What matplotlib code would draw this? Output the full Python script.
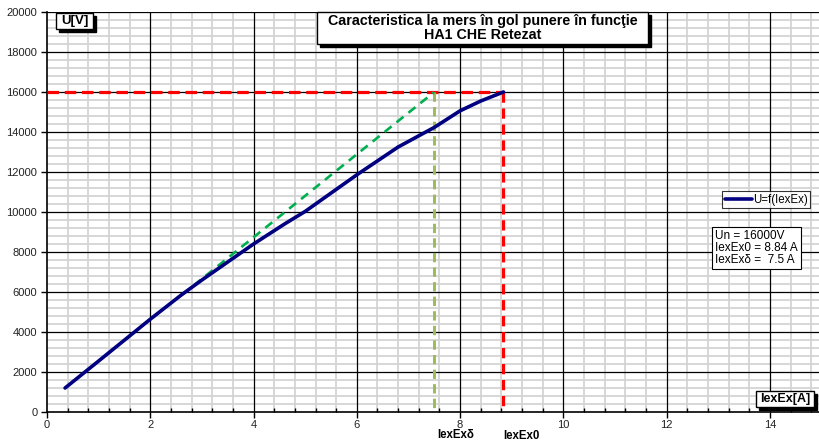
import numpy as np
import matplotlib.pyplot as plt
from matplotlib.ticker import MultipleLocator
from matplotlib.patches import Rectangle

plt.rcParams['font.family'] = ['Liberation Sans', 'DejaVu Sans']

# Measured no-load characteristic U = f(IexEx)
iex = [0.35, 1.0, 2.0, 2.6, 3.0, 4.0, 4.6, 5.0, 6.0, 6.8, 7.5, 8.0, 8.4, 8.84]
u = [1200, 2550, 4640, 5850, 6600, 8400, 9400, 10030, 11860, 13250, 14230,
     15060, 15550, 16000]

# Air-gap line and rated point
air_x = [2.61, 7.5]
air_y = [5850, 16000]
u_n = 16000
iex0 = 8.84
iex_delta = 7.5

W, H = 819, 441
fig = plt.figure(figsize=(W / 100, H / 100), dpi=100)
ax = fig.add_axes([47 / W, 29 / H, 772 / W, 400 / H])
ax.set_xlim(0, 14.95)
ax.set_ylim(0, 20000)

ax.xaxis.set_major_locator(MultipleLocator(2))
ax.xaxis.set_minor_locator(MultipleLocator(0.4))
ax.yaxis.set_major_locator(MultipleLocator(2000))
ax.yaxis.set_minor_locator(MultipleLocator(400))
ax.grid(which='minor', color='#d4d4d4', linewidth=1.3, zorder=0)
# major grid drawn by hand so it sits above the minor one
for xv in np.arange(2, 15, 2):
    ax.axvline(xv, color='black', linewidth=0.9, zorder=1)
for yv in np.arange(2000, 20001, 2000):
    ax.axhline(yv, color='black', linewidth=0.9, zorder=1)
ax.set_axisbelow(True)

for side in ['top', 'right']:
    ax.spines[side].set_visible(False)
for side in ['left', 'bottom']:
    ax.spines[side].set_linewidth(1.2)
    ax.spines[side].set_zorder(2)

ax.tick_params(which='major', direction='out', length=4, width=1,
               labelsize=8, pad=3, labelcolor='#222222')
ax.tick_params(axis='x', which='major', pad=1.5)
ax.tick_params(axis='x', which='minor', direction='in', length=3, width=1)
ax.tick_params(axis='y', which='minor', length=0)

# Rated voltage and current guides
ax.plot([0, iex0], [u_n, u_n], color='#ff0000', linewidth=2.3,
        dashes=(3.6, 1.8), zorder=3)
ax.plot([iex0, iex0], [u_n, 0], color='#ff0000', linewidth=2.3,
        dashes=(3.2, 1.8), zorder=3)
ax.plot([iex_delta, iex_delta], [u_n, 0], color='#9bbb59', linewidth=2.1,
        dashes=(3.2, 1.8), zorder=3)
ax.plot(air_x, air_y, color='#00b050', linewidth=1.9, dashes=(3.4, 2.4),
        zorder=3)

ax.plot(iex, u, color='#000080', linewidth=2.6, solid_capstyle='round',
        label='U=f(IexEx)', zorder=4)


def boxed(x0, y0, x1, y1, text, size):
    # box given in pixels from the top-left corner, with a drop shadow
    fig.patches.append(Rectangle((x0 / W + 3 / W, 1 - (y1 + 3) / H),
                                 (x1 - x0) / W, (y1 - y0) / H,
                                 transform=fig.transFigure, fc='black',
                                 ec='black', lw=1, zorder=5))
    fig.patches.append(Rectangle((x0 / W, 1 - y1 / H),
                                 (x1 - x0) / W, (y1 - y0) / H,
                                 transform=fig.transFigure, fc='white',
                                 ec='black', lw=1, zorder=6))
    fig.text((x0 + x1) / 2 / W, 1 - (y0 + y1) / 2 / H, text,
             fontsize=size, fontweight='bold', ha='center', va='center',
             linespacing=1.0, zorder=7)


boxed(317, 12, 648, 44,
      'Caracteristica la mers în gol punere în funcţie\nHA1 CHE Retezat', 10.3)
boxed(56, 13, 93, 29, 'U[V]', 9.5)
boxed(756, 391, 814, 407, 'IexEx[A]', 9)

leg = ax.legend(loc='upper left', bbox_to_anchor=(722 / W, 1 - 191 / H),
                bbox_transform=fig.transFigure, fontsize=8.3, frameon=True,
                fancybox=False, edgecolor='black', handlelength=2.4,
                handletextpad=0.05, borderpad=0.22, borderaxespad=0)
leg.get_frame().set_linewidth(0.8)
leg.set_zorder(8)

ax.text(715 / W, 1 - 248 / H,
        'Un = 16000V\nIexEx0 = 8.84 A\nIexExδ =  7.5 A',
        transform=fig.transFigure, fontsize=8.5, ha='left', va='center',
        linespacing=1.0, zorder=8,
        bbox=dict(boxstyle='square,pad=0.25', fc='white', ec='black', lw=0.8))

# Current markers under the axis
ax.text(iex_delta + 0.05, -0.057, 'IexExδ', transform=ax.get_xaxis_transform(),
        fontsize=8.3, fontweight='bold', ha='left', va='center')
ax.text(iex0, -0.059, 'IexEx0', transform=ax.get_xaxis_transform(),
        fontsize=8.3, fontweight='bold', ha='left', va='center')

fig.savefig('out.png', dpi=100)
